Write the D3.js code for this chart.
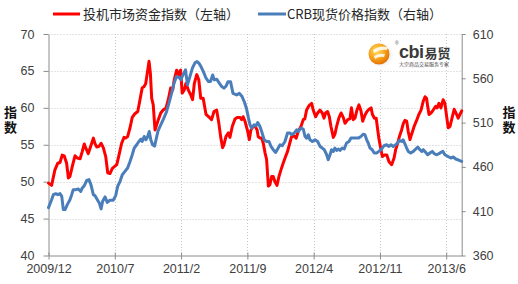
<!DOCTYPE html>
<html><head><meta charset="utf-8">
<script src="https://cdn.jsdelivr.net/npm/d3@7"></script>
<style>
html,body{margin:0;padding:0;background:#fff;}
svg{display:block;}
</style></head>
<body>
<svg id="c" width="518" height="284"></svg>
<script>
// ---- data ----
const seriesNames = ["投机市场资金指数（左轴）", "CRB现货价格指数（右轴）"];
const axisTitle = "指数";
const xTickWeeks = [0, 30, 60, 90, 120, 150, 180];
const xTickLabels = ["2009/12", "2010/7", "2011/2", "2011/9", "2012/4", "2012/11", "2013/6"];
const leftTicks = [40, 45, 50, 55, 60, 65, 70];
const rightTicks = [360, 410, 460, 510, 560, 610];
const totalWeeks = 187;
// [week offset from 2009/12, value]
const speculativeIndex = [[0,49.8],[1.4,49.5],[2.9,51.6],[4.2,52.5],[5.2,52.6],[6.2,53.6],[7.1,53.5],[8.2,52.5],[9.0,50.5],[9.7,50.7],[10.8,52.1],[12.0,53.5],[13.0,53.2],[14.3,53.1],[15.3,54.1],[16.2,55.1],[16.8,54.6],[18.0,53.8],[19.1,54.8],[20.3,55.9],[21.0,55.2],[21.8,54.7],[22.9,54.8],[23.8,55.2],[24.8,54.6],[25.9,53.4],[26.8,51.2],[27.8,51.1],[28.9,51.8],[30.1,52.1],[30.9,52.3],[31.9,53.6],[33.1,55.2],[34.2,56.0],[34.9,55.9],[35.8,56.1],[36.9,57.3],[37.9,58.7],[39.1,59.2],[40.4,59.5],[41.4,61.1],[42.4,62.7],[43.3,62.9],[44.0,63.3],[44.7,64.7],[45.5,66.3],[46.1,64.7],[46.7,61.3],[47.4,60.4],[48.2,57.0],[49.7,58.4],[50.8,59.3],[51.9,59.7],[53.2,60.0],[54.2,61.1],[55.3,62.7],[56.2,62.4],[56.9,63.8],[58.0,65.1],[58.9,64.5],[59.8,65.1],[60.5,62.0],[61.4,62.4],[62.2,63.3],[63.3,62.4],[64.3,61.8],[65.2,61.1],[66.0,63.3],[67.1,64.5],[68.0,63.8],[68.9,61.3],[70.0,61.3],[71.3,59.1],[72.8,58.7],[73.8,58.4],[74.9,59.5],[76.1,59.7],[77.1,57.9],[77.9,56.1],[78.8,54.6],[79.4,55.0],[80.3,56.1],[81.4,56.6],[82.1,56.0],[83.2,57.5],[84.4,58.5],[85.4,58.7],[86.7,58.7],[87.4,58.4],[88.1,58.8],[88.9,58.2],[90.0,57.0],[90.9,55.7],[91.6,57.0],[92.7,57.5],[93.6,57.5],[94.4,57.0],[94.9,56.1],[95.7,55.9],[96.5,55.9],[97.2,55.2],[98.0,53.9],[98.7,53.0],[99.5,49.4],[100.2,49.6],[101.0,50.7],[101.7,50.7],[102.5,50.0],[103.4,49.5],[104.3,50.7],[105.2,51.6],[106.2,52.5],[107.3,53.4],[108.2,54.1],[109.0,55.0],[110.0,56.1],[111.1,56.2],[112.1,55.9],[113.0,56.8],[114.3,57.5],[115.3,58.4],[116.0,58.5],[116.8,59.7],[117.9,60.3],[119.1,60.6],[119.8,59.7],[120.9,58.8],[121.8,59.3],[122.9,59.7],[123.9,59.3],[124.7,58.6],[125.4,59.3],[126.3,59.5],[127.1,58.8],[127.8,57.5],[128.9,56.0],[129.6,56.4],[130.4,57.5],[131.4,58.6],[132.4,59.3],[133.4,58.7],[134.2,57.9],[135.4,58.4],[136.4,58.5],[137.1,60.0],[137.9,58.4],[138.7,58.6],[139.5,59.6],[140.5,60.4],[141.4,59.6],[142.2,58.2],[143.2,59.0],[144.1,59.5],[145.1,59.8],[146.0,60.0],[146.6,59.1],[147.5,58.6],[148.3,58.6],[149.0,57.0],[149.6,55.7],[150.5,54.3],[151.1,53.4],[152.0,53.6],[153.1,53.6],[154.1,52.7],[155.3,52.3],[156.4,53.2],[157.1,54.3],[158.0,55.2],[158.8,56.1],[159.8,57.0],[160.6,57.9],[161.3,58.3],[162.1,58.2],[162.8,56.8],[163.6,55.7],[164.3,56.4],[165.5,57.5],[166.6,58.3],[167.6,59.1],[168.6,59.7],[169.6,60.9],[170.4,61.5],[171.1,61.3],[171.6,60.2],[172.2,59.1],[173.1,59.3],[174.1,59.7],[175.2,60.2],[175.9,60.0],[176.7,60.6],[177.6,60.0],[178.6,61.1],[179.4,60.6],[180.2,58.8],[180.9,57.3],[181.7,57.5],[182.7,58.7],[183.6,59.8],[184.4,59.3],[185.4,58.6],[186.2,59.1],[187.0,59.6]];
const crbSpotIndex = [[0,414],[1.4,423],[2.2,428.7],[3.3,429.8],[4.2,428.7],[5.2,429.8],[6.0,426.8],[6.7,411.8],[7.5,411.8],[8.5,417.4],[9.7,423],[10.5,428.7],[11.2,434.3],[12.3,434.3],[13.5,435.1],[14.6,432.4],[15.3,436.2],[16.2,438.8],[17.3,444.8],[18.3,445.6],[19.2,440],[20.3,428.7],[21.0,427.6],[22.1,423],[23.0,419.3],[23.8,412.6],[24.5,421.2],[25.6,426.1],[26.6,420],[27.8,422.3],[29.3,422.3],[30.4,427.6],[31.3,438],[32.4,443.7],[33.4,451.2],[34.6,454.9],[35.8,458.7],[36.9,466.2],[37.9,473.7],[38.8,481.3],[39.9,485],[40.9,488.7],[41.9,491.4],[42.4,488.7],[43.3,494.3],[44.1,490.6],[44.9,494.3],[45.6,500],[46.3,490.6],[47.1,485],[48.0,483.5],[49.5,500],[50.7,507],[52.0,514],[53.4,522],[54.5,532],[55.7,543],[56.8,554.5],[57.9,561.9],[59.0,561],[60.0,558.5],[60.6,562.5],[62.0,569.5],[62.9,552.6],[64.0,561.9],[65.2,572],[66.3,577.5],[67.2,578.8],[68.1,577],[69.0,573.2],[70.1,567.5],[71.3,560.1],[72.4,556.3],[73.3,556.3],[74.3,563.8],[75.0,558.2],[76.1,559],[77.3,554.5],[78.4,550.7],[79.4,548.9],[80.3,551],[81.2,556],[82.4,556],[83.5,543],[85.1,541.3],[86.4,543],[87.6,539.4],[88.7,533],[89.6,526],[90.5,515],[91.2,507.5],[91.9,503.8],[93.0,507.5],[93.9,506.4],[94.7,510.1],[95.7,505.6],[96.7,498.2],[97.6,490.6],[98.7,488.7],[99.8,488.7],[100.7,483.1],[101.7,479.4],[102.8,476.4],[103.7,480.2],[104.8,485],[105.8,483.9],[107.0,488.7],[108.2,498.2],[109.3,498.2],[110.0,496.3],[111.2,498.2],[112.3,501.9],[113.0,500],[114.3,503.8],[115.3,502.7],[116.1,494.3],[116.8,492.5],[117.6,496.3],[118.3,490.6],[119.4,488.7],[120.6,490.6],[121.8,488.7],[122.9,483.1],[123.9,481.3],[124.8,479.4],[125.9,473.7],[126.6,468.1],[127.4,473.7],[128.1,479.4],[128.9,477.5],[129.6,481.3],[130.4,478.6],[131.1,480.2],[131.9,478.6],[132.9,481.3],[133.8,480.2],[134.9,487],[136.0,488.7],[136.9,492.5],[137.9,492.5],[139.0,492.5],[140.2,492.5],[141.4,494.3],[142.4,496.8],[143.2,496.3],[144.0,490.6],[144.7,487],[145.5,481.3],[146.5,479.4],[147.4,475.7],[148.5,475.7],[149.5,477.5],[150.8,480.2],[151.8,483.9],[153.0,485],[154.1,483.1],[155.0,485],[156.0,483.1],[157.1,485],[158.0,487],[158.7,489.9],[159.8,488.7],[160.5,490.6],[161.3,486.1],[162.1,481.3],[162.8,477.5],[163.9,475.7],[165.1,477.5],[166.2,480.2],[167.1,482.4],[168.1,479.4],[168.9,477.5],[169.6,479.4],[170.7,476.4],[171.6,473.7],[172.6,475.7],[173.7,477.5],[174.6,474.9],[175.7,473.7],[176.7,474.9],[177.6,476.4],[178.5,477.5],[179.4,473.7],[180.2,472.6],[181.2,471.2],[182.1,470],[183.2,471.2],[184.3,468.9],[185.2,468.1],[185.9,467.3],[187.0,466.2]];

// ---- layout ----
const svg = d3.select("#c");
const L = 48.5, R = 461.7, T = 34, B = 255.5;
const x = d3.scaleLinear().domain([0, totalWeeks]).range([L, R]);
const yL = d3.scaleLinear().domain([40, 70]).range([B, T]);
const yR = d3.scaleLinear().domain([360, 610]).range([B, T]);
const axisColor = "#8c8c8c", gridColor = "#c8c8c8", textColor = "#404040";
const font = "'Liberation Sans', Arial, sans-serif";
const cjk = "'Noto Sans CJK SC', sans-serif";

// gridlines
const grid = svg.append("g");
grid.selectAll("line.h").data(leftTicks.filter(d => d > 40)).join("line")
  .attr("x1", L).attr("x2", R)
  .attr("y1", d => Math.round(yL(d)) + 0.5).attr("y2", d => Math.round(yL(d)) + 0.5)
  .attr("stroke", gridColor).attr("stroke-width", 1).attr("stroke-dasharray", "1,2");
grid.selectAll("line.v").data(xTickWeeks.filter(d => d > 0)).join("line")
  .attr("x1", d => Math.round(x(d)) + 0.5).attr("x2", d => Math.round(x(d)) + 0.5)
  .attr("y1", T).attr("y2", B)
  .attr("stroke", gridColor).attr("stroke-width", 1).attr("stroke-dasharray", "1,2");

// axes
function styleAxis(g) {
  g.selectAll("path.domain").attr("stroke", axisColor);
  g.selectAll(".tick line").attr("stroke", axisColor);
  g.selectAll(".tick text").attr("fill", textColor).attr("font-family", font).attr("font-size", 12.5);
}
svg.append("g").attr("transform", `translate(${L},0)`)
  .call(d3.axisLeft(yL).tickValues(leftTicks).tickSize(5).tickSizeOuter(0).tickPadding(9))
  .call(styleAxis);
svg.append("g").attr("transform", `translate(${R},0)`)
  .call(d3.axisRight(yR).tickValues(rightTicks).tickSize(4).tickSizeOuter(0).tickPadding(7))
  .call(styleAxis);
svg.append("g").attr("transform", `translate(0,${B})`)
  .call(d3.axisBottom(x).tickValues(xTickWeeks).tickFormat((d, i) => xTickLabels[i]).tickSize(4).tickSizeOuter(0).tickPadding(5))
  .call(styleAxis)
  .call(g => g.selectAll(".tick line").attr("y1", -3));

// axis titles (vertical text)
[10.5, 509].forEach(cx => {
  svg.append("text").attr("x", cx).attr("y", 120.5)
    .style("writing-mode", "vertical-rl").attr("text-anchor", "middle")
    .attr("letter-spacing", 1.5)
    .attr("font-family", cjk).attr("font-weight", "bold")
    .attr("font-size", 13).attr("fill", "#111").text(axisTitle);
});

// lines
const lineL = d3.line().x(d => x(d[0])).y(d => yL(d[1]));
const lineR = d3.line().x(d => x(d[0])).y(d => yR(d[1]));
svg.append("path").datum(speculativeIndex).attr("d", lineL)
  .attr("fill", "none").attr("stroke", "#ff0000").attr("stroke-width", 3)
  .attr("stroke-linejoin", "round").attr("stroke-linecap", "round");
svg.append("path").datum(crbSpotIndex).attr("d", lineR)
  .attr("fill", "none").attr("stroke", "#4a7ebb").attr("stroke-width", 3)
  .attr("stroke-linejoin", "round").attr("stroke-linecap", "round");

// legend
const legend = [
  {name: seriesNames[0], color: "#ff0000", x1: 53, x2: 80, tx: 83},
  {name: seriesNames[1], color: "#4a7ebb", x1: 258, x2: 286, tx: 287}
];
legend.forEach(l => {
  svg.append("line").attr("x1", l.x1).attr("x2", l.x2).attr("y1", 14).attr("y2", 14)
    .attr("stroke", l.color).attr("stroke-width", 3);
  svg.append("text").attr("x", l.tx).attr("y", 13).attr("dominant-baseline", "central")
    .attr("font-family", cjk).attr("font-size", 13).attr("fill", "#262626").text(l.name);
});

// logo
const defs = svg.append("defs");
const rg = defs.append("radialGradient").attr("id", "lg").attr("cx", "40%").attr("cy", "35%").attr("r", "70%");
rg.append("stop").attr("offset", "0%").attr("stop-color", "#ffe066");
rg.append("stop").attr("offset", "55%").attr("stop-color", "#f7a21b");
rg.append("stop").attr("offset", "100%").attr("stop-color", "#e06a00");
const sg = defs.append("radialGradient").attr("id", "sg").attr("cx", "50%").attr("cy", "50%").attr("r", "50%");
sg.append("stop").attr("offset", "0%").attr("stop-color", "#d8d8d8");
sg.append("stop").attr("offset", "100%").attr("stop-color", "#ffffff");
const logo = svg.append("g");
logo.append("circle").attr("cx", 381).attr("cy", 55).attr("r", 13).attr("fill", "url(#sg)");
logo.append("circle").attr("cx", 379).attr("cy", 54).attr("r", 10.5).attr("fill", "url(#lg)");
logo.append("path").attr("d", "M373,50 Q380,45 388,47 L387,50 Q380,49 374,53 Z").attr("fill", "#fff").attr("opacity", 0.85);
logo.append("path").attr("d", "M374,56 Q379,53 385,54 L384,57 Q379,56 375,59 Z").attr("fill", "#fff").attr("opacity", 0.85);
logo.append("text").attr("x", 395).attr("y", 45).attr("font-family", font).attr("font-size", 5).attr("fill", "#555").text("®");
const brand = logo.append("text").attr("x", 399).attr("y", 57.5).attr("fill", "#3a3a3a").attr("font-weight", "bold");
brand.append("tspan").attr("font-family", font).attr("font-size", 18).attr("letter-spacing", -0.5).text("cbi");
brand.append("tspan").attr("font-family", cjk).attr("font-size", 13).attr("dx", 1).text("易贸");
logo.append("text").attr("x", 399).attr("y", 66).attr("font-family", cjk)
  .attr("font-size", 5).attr("fill", "#444").text("大宗商品交易服务专家");
</script>
</body></html>
